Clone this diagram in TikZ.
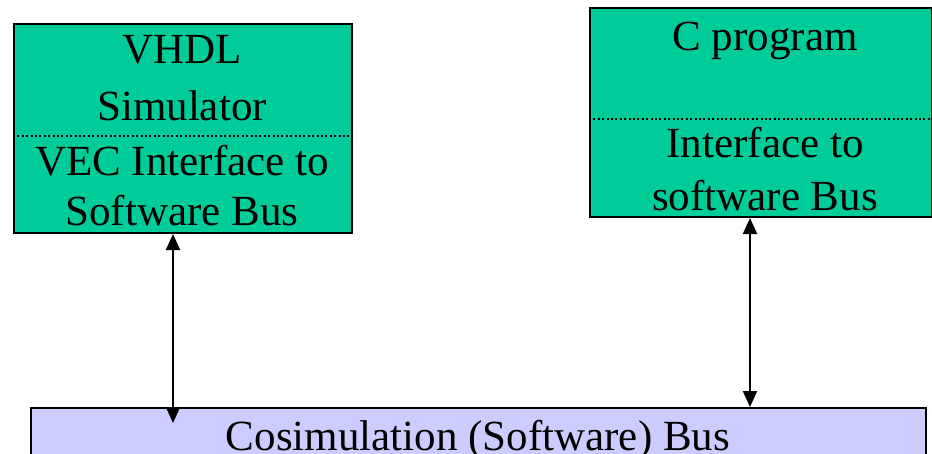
\documentclass[tikz,border=0pt]{standalone}
\usepackage{fontspec}
\setmainfont{Liberation Serif}
\usetikzlibrary{arrows.meta}
\definecolor{simgreen}{RGB}{0,204,153}
\definecolor{buslav}{RGB}{204,204,255}
\begin{document}
\begin{tikzpicture}[x=1pt,y=-1pt,
  block/.style={draw=black, line width=2pt, fill=simgreen, rectangle, inner sep=0pt, anchor=north west},
  busbox/.style={draw=black, line width=2pt, fill=buslav, rectangle, inner sep=0pt, anchor=north west},
  txt/.style={anchor=base, inner sep=0pt, font=\fontsize{43}{50}\selectfont},
  divider/.style={line width=1.6pt, dash pattern=on 2pt off 2.4pt},
  link/.style={line width=2pt, {Triangle[length=16pt,width=14pt]}-{Triangle[length=16pt,width=14pt]}}]
\useasboundingbox (0,0) rectangle (932,453);

% blocks
\node[block, minimum width=338pt, minimum height=209pt] (vhdl) at (13,23) {};
\node[block, minimum width=342pt, minimum height=209pt] (cprog) at (589,7) {};
\node[busbox, minimum width=895pt, minimum height=70pt] (bus) at (30,407) {};

% section dividers
\draw[divider] (vhdl.west |- 0,136) -- (vhdl.east |- 0,136);
\draw[divider] (cprog.west |- 0,119) -- (cprog.east |- 0,119);

% labels
\node[txt] (vhdlA) at (182,63) {VHDL};
\node[txt] (vhdlB) at (182,120) {Simulator};
\node[txt] (vhdlC) at (182,175) {VEC Interface to};
\node[txt] (vhdlD) at (182,225) {Software Bus};
\node[txt] (cprogA) at (765,50) {C program};
\node[txt] (cprogB) at (765,157) {Interface to};
\node[txt] (cprogC) at (765,210) {software Bus};
\node[txt] (busA) at (478,450) {Cosimulation (Software) Bus};

% connectors
\coordinate (vtap) at (173,423);
\coordinate (ctap) at (750,0);
\draw[link] (vhdl.south -| vtap) -- (vtap);
\draw[link] (cprog.south -| ctap) -- (bus.north -| ctap);
\end{tikzpicture}
\end{document}
